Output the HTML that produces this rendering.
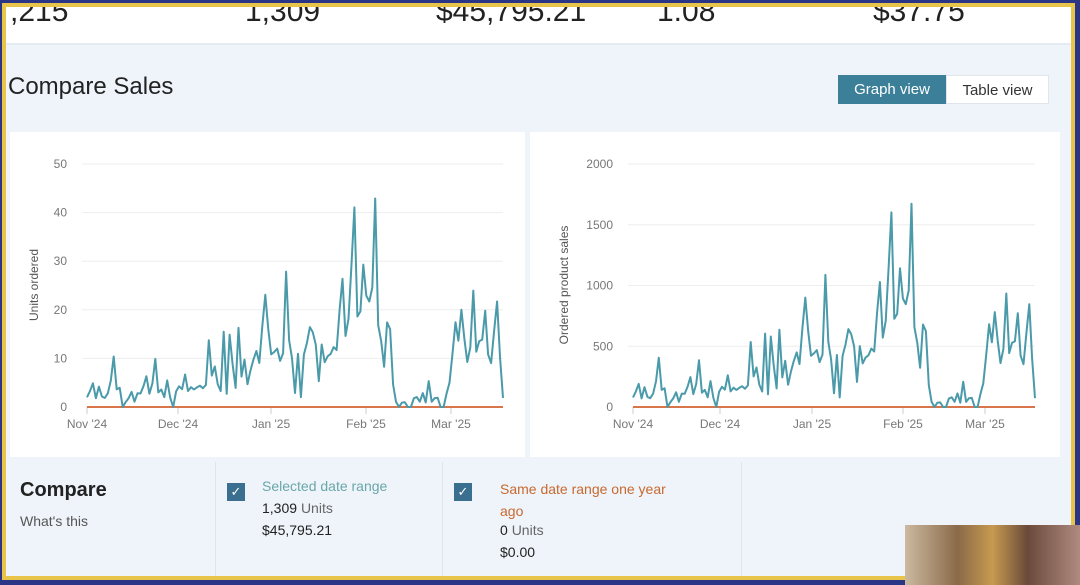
<!DOCTYPE html>
<html><head><meta charset="utf-8"><style>
*{margin:0;padding:0;box-sizing:border-box}
body{width:1080px;height:585px;overflow:hidden;background:#2b3585;font-family:"Liberation Sans",sans-serif;position:relative}
#frame{position:absolute;left:2px;top:3px;width:1073px;height:577px;border:4px solid #e8c44a;background:#eef4fa;overflow:hidden}
.abs{position:absolute}
.top{position:absolute;left:0;top:0;width:100%;height:38px;background:#fff;border-bottom:2px solid #e4ebf2}
.num{position:absolute;top:-12px;font-size:30px;color:#222}
.panel{position:absolute;background:#fff}
.btn{position:absolute;top:68px;height:29px;font-size:15px;line-height:29px;text-align:center}
.tick{font-size:12px;fill:#777}
</style></head><body>
<div id="frame">
 <div class="top">
  <div class="num" style="left:4px">,215</div>
  <div class="num" style="left:239px">1,309</div>
  <div class="num" style="left:430px">$45,795.21</div>
  <div class="num" style="left:651px">1.08</div>
  <div class="num" style="left:867px">$37.75</div>
 </div>
 <div class="abs" style="left:2px;top:66px;font-size:24px;color:#222">Compare Sales</div>
 <div class="btn" style="left:832px;width:108px;background:#3b7f98;color:#fff">Graph view</div>
 <div class="btn" style="left:940px;width:103px;background:#fff;color:#333;border:1px solid #e0e6ec">Table view</div>
 <div class="panel" style="left:4px;top:125px;width:515px;height:325px"></div>
 <div class="panel" style="left:524px;top:125px;width:530px;height:325px"></div>
 <svg class="abs" style="left:-6px;top:-7px" width="1080" height="585">
  <g id="g"></g>
  <text transform="translate(38,285) rotate(-90)" text-anchor="middle" style="font-size:12px;fill:#555">Units ordered</text>
  <text transform="translate(568,285) rotate(-90)" text-anchor="middle" style="font-size:12px;fill:#555">Ordered product sales</text>
 </svg>
 <div class="abs" style="left:209px;top:455px;width:1px;height:120px;background:#dde5ee"></div>
 <div class="abs" style="left:436px;top:455px;width:1px;height:120px;background:#dde5ee"></div>
 <div class="abs" style="left:735px;top:455px;width:1px;height:120px;background:#dde5ee"></div>
 <div class="abs" style="left:14px;top:472px;font-size:20px;font-weight:bold;color:#222">Compare</div>
 <div class="abs" style="left:14px;top:506px;font-size:14px;color:#555">What's this</div>
 <div class="abs" style="left:221px;top:476px;width:18px;height:18px;background:#3b6f8f;color:#fff;font-size:13px;text-align:center;line-height:18px">✓</div>
 <div class="abs" style="left:256px;top:471px;font-size:14px;color:#6aa7a9">Selected date range</div>
 <div class="abs" style="left:256px;top:493px;font-size:14px;color:#222">1,309 <span style="color:#666">Units</span></div>
 <div class="abs" style="left:256px;top:515px;font-size:14px;color:#222">$45,795.21</div>
 <div class="abs" style="left:448px;top:476px;width:18px;height:18px;background:#3b6f8f;color:#fff;font-size:13px;text-align:center;line-height:18px">✓</div>
 <div class="abs" style="left:494px;top:471px;font-size:14px;color:#c8692e;line-height:22px">Same date range one year<br>ago</div>
 <div class="abs" style="left:494px;top:515px;font-size:14px;color:#222">0 <span style="color:#666">Units</span></div>
 <div class="abs" style="left:494px;top:537px;font-size:14px;color:#222">$0.00</div>
</div>
<div class="abs" style="left:905px;top:525px;width:175px;height:60px;background:linear-gradient(90deg,#cbb9a0,#8a6a48 30%,#c79a50 50%,#6a4a3a 70%,#b08a80)"></div>
<script>
var u=[2,3,5,2,4,2,2,3,5,10,4,4,0,1,2,3,1,3,3,4,6,3,5,9,3,4,2,5,2,0,
3,4,4,7,3,4,4,4,4,4,5,13,6,9,5,3,15,3,15,8,4,18,6,9,5,8,9,11,10,17,21,
16,12,11,11,10,12,26,13,11,3,10,2,12,13,15,16,14,5,12,10,11,10,12,13,20,24,15,20,28,38,20,
21,27,22,24,25,39,17,15,8,16,17,5,1,0,1,1,0,0,2,2,1,3,1,5,1,2,2,0,0,3,5,10,18,15,19,13,10,13,22,11,15,14,18,11,10,15,20,11,2];
var g='';
function chart(x0,x1,step,xs,tv,scale,mult){
 var y0=407,yt=164;
 for(var i=0;i<tv.length;i++){var y=y0-(y0-yt)*i/(tv.length-1);
  if(i>0)g+='<line x1="'+(x0-5)+'" x2="'+x1+'" y1="'+y+'" y2="'+y+'" stroke="#eee"/>';
  g+='<text class="tick" x="'+(x0-20)+'" y="'+(y+4)+'" text-anchor="end">'+tv[i]+'</text>';}
 var L=["Nov '24","Dec '24","Jan '25","Feb '25","Mar '25"];
 for(var j=0;j<5;j++){g+='<line x1="'+xs[j]+'" x2="'+xs[j]+'" y1="407" y2="414" stroke="#ccc"/><text class="tick" x="'+xs[j]+'" y="428" text-anchor="middle">'+L[j]+'</text>';}
 g+='<line x1="'+x0+'" x2="'+x1+'" y1="407" y2="407" stroke="#d9754a" stroke-width="2"/>';
 var p=[];for(var k=0;k<u.length;k++){var v=u[k]*mult*(1+0.1*Math.sin(k*1.7));p.push((x0+k*step).toFixed(1)+','+Math.max(y0-v*scale,160).toFixed(1));}
 g+='<polyline fill="none" stroke="#4a9aaa" stroke-width="2" stroke-linejoin="round" points="'+p.join(' ')+'"/>';
}
chart(87,503,416/(u.length-1),[87,178,271,366,451],[0,10,20,30,40,50],243/50,1);
chart(633,1035,402/(u.length-1),[633,720,812,903,985],[0,500,1000,1500,2000],243/2000,39);
document.getElementById('g').innerHTML=g;
</script>
</body></html>
